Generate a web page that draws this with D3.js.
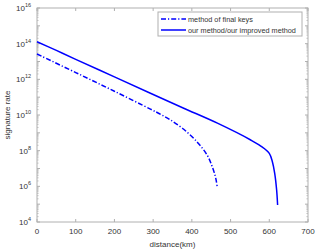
<!DOCTYPE html>
<html>
<head>
<meta charset="utf-8">
<script src="https://cdn.jsdelivr.net/npm/d3@7"></script>
<style>
body { margin: 0; background: #fff; }
text { font-family: "Liberation Sans", Arial, sans-serif; }
</style>
</head>
<body>
<div id="chart"></div>
<script>
// data
var finalDist = [0, 100, 200, 293, 320, 345, 379, 414, 440, 453, 461.5, 466];
var finalRate = [2.63e13, 2.4e12, 2.14e11, 2.14e10, 1.07e10, 5.25e9, 1.58e9, 3.0e8, 5.4e7, 1.2e7, 3.0e6, 7.9e5];
var oursDist = [0, 50, 100, 200, 293, 379, 466, 552, 578, 600, 608, 614, 619, 621.5];
var oursRate = [1.29e14, 4.2e13, 1.32e13, 1.38e12, 1.66e11, 2.4e10, 3.47e9, 3.98e8, 1.82e8, 7.1e7, 2.4e7, 5.4e6, 6.2e5, 8.9e4];
var xTicks = [0, 100, 200, 300, 400, 500, 600, 700];
var yExps = [4, 6, 8, 10, 12, 14, 16];
var legendLabels = ["method of final keys", "our method/our improved method"];

var margin = {top: 8, right: 16, bottom: 30, left: 37},
    width = 324 - margin.left - margin.right,
    height = 252 - margin.top - margin.bottom;

var svg = d3.select("#chart")
    .append("svg")
    .attr("width", 324)
    .attr("height", 252)
    .append("g")
    .attr("transform", "translate(" + margin.left + "," + margin.top + ")");

var x = d3.scaleLinear().domain([0, 700]).range([0, width]);
var y = d3.scaleLog().domain([1e4, 1e16]).range([height, 0]);

var axisCol = "#b0b0b0";
var textCol = "#333";

// box
svg.append("rect")
    .attr("width", width).attr("height", height)
    .attr("fill", "none").attr("stroke", axisCol).attr("stroke-width", 1);

// x ticks (bottom and top, pointing inward)
xTicks.forEach(function(t) {
    svg.append("line").attr("x1", x(t)).attr("x2", x(t))
        .attr("y1", height).attr("y2", height - 3).attr("stroke", axisCol);
    svg.append("line").attr("x1", x(t)).attr("x2", x(t))
        .attr("y1", 0).attr("y2", 3).attr("stroke", axisCol);
    svg.append("text").attr("x", x(t)).attr("y", height + 12)
        .attr("text-anchor", "middle").attr("font-size", 8).attr("fill", textCol)
        .text(t);
});

// y ticks: major each decade, minor 2..9
for (var e = 4; e <= 16; e++) {
    [0, width].forEach(function(px) {
        var dir = px === 0 ? 1 : -1;
        svg.append("line").attr("x1", px).attr("x2", px + dir * 3)
            .attr("y1", y(Math.pow(10, e))).attr("y2", y(Math.pow(10, e))).attr("stroke", axisCol);
        if (e < 16) {
            for (var m = 2; m <= 9; m++) {
                var v = m * Math.pow(10, e);
                svg.append("line").attr("x1", px).attr("x2", px + dir * 1.6)
                    .attr("y1", y(v)).attr("y2", y(v)).attr("stroke", axisCol).attr("stroke-width", 0.7);
            }
        }
    });
}

yExps.forEach(function(e) {
    var t = svg.append("text")
        .attr("x", -6).attr("y", y(Math.pow(10, e)) + 3)
        .attr("text-anchor", "end").attr("font-size", 8).attr("fill", textCol);
    t.append("tspan").text("10");
    t.append("tspan").attr("font-size", 5.5).attr("dy", -4).text(e);
});

// axis labels
svg.append("text")
    .attr("x", width / 2).attr("y", height + 25)
    .attr("text-anchor", "middle").attr("font-size", 8).attr("fill", textCol)
    .text("distance(km)");
svg.append("text")
    .attr("transform", "translate(" + (-27) + "," + (height / 2) + ") rotate(-90)")
    .attr("text-anchor", "middle").attr("font-size", 8).attr("fill", textCol)
    .text("signature rate");

var line = d3.line()
    .x(function(d) { return x(d[0]); })
    .y(function(d) { return y(d[1]); })
    .curve(d3.curveCatmullRom.alpha(0.5));

var finalData = finalDist.map(function(d, i) { return [d, finalRate[i]]; });
var oursData = oursDist.map(function(d, i) { return [d, oursRate[i]]; });

var dashDot = "5,2,1.2,2";

svg.append("path")
    .datum(finalData)
    .attr("d", line)
    .attr("fill", "none")
    .attr("stroke", "#0000ff")
    .attr("stroke-width", 1.5)
    .attr("stroke-dasharray", dashDot);

svg.append("path")
    .datum(oursData)
    .attr("d", line)
    .attr("fill", "none")
    .attr("stroke", "#0000ff")
    .attr("stroke-width", 1.5);

// legend
var lg = svg.append("g").attr("transform", "translate(" + (158 - margin.left) + "," + (12 - margin.top) + ")");
lg.append("rect").attr("width", 144).attr("height", 24)
    .attr("fill", "#fff").attr("stroke", axisCol);
legendLabels.forEach(function(lab, i) {
    var ly = 7 + i * 11;
    lg.append("line").attr("x1", 3).attr("x2", 28).attr("y1", ly).attr("y2", ly)
        .attr("stroke", "#0000ff").attr("stroke-width", 1.5)
        .attr("stroke-dasharray", i === 0 ? dashDot : null);
    lg.append("text").attr("x", 30).attr("y", ly + 2.5)
        .attr("font-size", 7.3).attr("fill", textCol).text(lab);
});
</script>
</body>
</html>
